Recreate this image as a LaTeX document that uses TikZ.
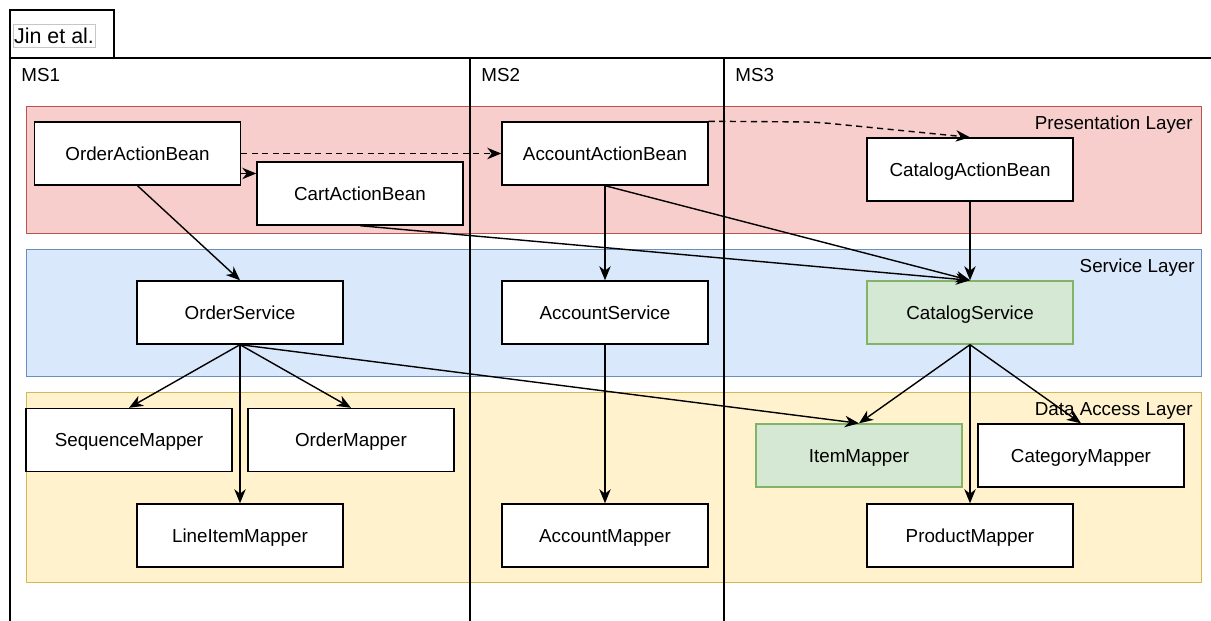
\documentclass[tikz,border=0pt]{standalone}
\usepackage{fontspec}
\setmainfont{Liberation Sans}
\usepackage{xcolor}
\usetikzlibrary{shapes, arrows.meta, calc}
\definecolor{presfill}{HTML}{F8CECC}
\definecolor{presline}{HTML}{B85450}
\definecolor{servfill}{HTML}{DAE8FC}
\definecolor{servline}{HTML}{6C8EBF}
\definecolor{datafill}{HTML}{FFF2CC}
\definecolor{dataline}{HTML}{D6B656}
\definecolor{hotfill}{HTML}{D5E8D4}
\definecolor{hotline}{HTML}{82B366}
\tikzstyle{line} = [draw, line width=0.8pt, -{Stealth[length=8pt,width=6.5pt,inset=2.5pt]}]
\tikzstyle{dline} = [line, dash pattern=on 3.5pt off 2.5pt]
\tikzstyle{block} = [draw, rectangle, fill=white, line width=0.8pt, minimum width=4.12cm, minimum height=1.26cm, inner sep=0pt, text height=0.98em, text depth=0.2em, font=\fontsize{10.7}{12}\selectfont]
\tikzstyle{hotblock} = [block, fill=hotfill, draw=hotline]
\tikzstyle{layertext} = [anchor=east, inner sep=0pt, text height=0.98em, text depth=0.2em, font=\fontsize{10.7}{12}\selectfont]
\tikzstyle{frame} = [draw, line width=0.8pt]
\def\lyr{\fontsize{10.7}{12}\selectfont}

\begin{document}
\begin{tikzpicture}[x=0.02cm, y=-0.02cm]
		\useasboundingbox (0,0) rectangle (1211,621);
		% layers
		\draw[fill=presfill, draw=presline] (26,106) rectangle (1201,233);
		\draw[fill=servfill, draw=servline] (26,249) rectangle (1201,376);
		\draw[fill=datafill, draw=dataline] (26,392) rectangle (1201,582);
		\node[layertext] (pl) at (1193,123) {Presentation Layer};
		\node[layertext] (sl) at (1195,266) {Service Layer};
		\node[layertext] (dl) at (1193,409) {Data Access Layer};
		% frame
		\draw[frame] (10,58) rectangle (114,10);
		\draw[frame] (1211,58) -- (10,58) -- (10,621);
		\draw[frame] (470,58) -- (470,621);
		\draw[frame] (724,58) -- (724,621);
		\node[draw=gray!45, fill=white, inner sep=0pt, minimum width=1.64cm, minimum height=0.46cm, font=\fontsize{12.2}{14}\selectfont] (T) at (54,35.5) {Jin et al.};
		\node[anchor=west, inner sep=0pt, font=\lyr] (m1) at (21,75) {MS1};
		\node[anchor=west, inner sep=0pt, font=\lyr] (m2) at (481,75) {MS2};
		\node[anchor=west, inner sep=0pt, font=\lyr] (m3) at (735,75) {MS3};
		% classes
		\node[block] (OAB) at (137.5,153.5) {OrderActionBean};
		\node[block] (CAB) at (360,193.5) {CartActionBean};
		\node[block] (AAB) at (605,153.5) {AccountActionBean};
		\node[block] (KAB) at (970,169.5) {CatalogActionBean};
		\node[block] (OS) at (240,312.5) {OrderService};
		\node[block] (AS) at (605,312.5) {AccountService};
		\node[hotblock] (KS) at (970,312.5) {CatalogService};
		\node[block] (SM) at (129,440) {SequenceMapper};
		\node[block] (OM) at (351,440) {OrderMapper};
		\node[block] (LM) at (240,535.5) {LineItemMapper};
		\node[block] (AM) at (605,535.5) {AccountMapper};
		\node[hotblock] (IM) at (859,455.5) {ItemMapper};
		\node[block] (CM) at (1081,455.5) {CategoryMapper};
		\node[block] (PM) at (970,535.5) {ProductMapper};
		% calls
		\draw[line] ($(OAB.east)+(0,20)$) -- ($(CAB.west)+(0,-20)$);
		\draw[dline] (OAB.east) -- (AAB.west);
		\draw[dline, rounded corners=8pt] (AAB.north east) -- (815,122) -- (KAB.north);
		\draw[line] (OAB.south) -- (OS.north);
		\draw[line] (CAB.south) -- (KS.north);
		\draw[line] (AAB.south) -- (AS.north);
		\draw[line] (AAB.south) -- (KS.north);
		\draw[line] (KAB.south) -- (KS.north);
		\draw[line] (OS.south) -- (SM.north);
		\draw[line] (OS.south) -- (OM.north);
		\draw[line] (OS.south) -- (LM.north);
		\draw[line] (OS.south) -- (IM.north);
		\draw[line] (AS.south) -- (AM.north);
		\draw[line] (KS.south) -- (IM.north);
		\draw[line] (KS.south) -- (PM.north);
		\draw[line] (KS.south) -- (CM.north);
	\end{tikzpicture}
\end{document}
